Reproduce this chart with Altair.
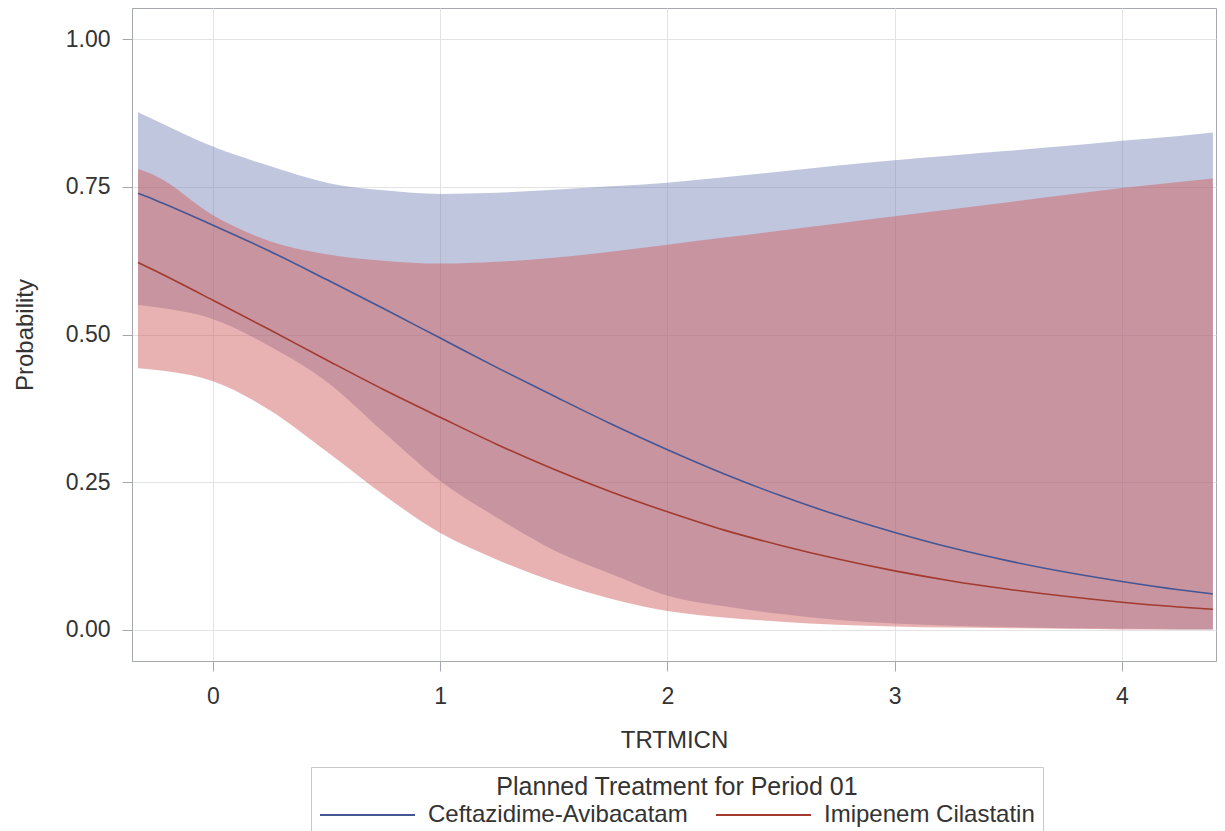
import altair as alt
import pandas as pd

# TRTMICN grid
x_vals = [-0.33, -0.25, 0.0, 0.25, 0.5, 0.75, 1.0, 1.25, 1.5, 1.75, 2.0,
          2.25, 2.5, 2.75, 3.0, 3.25, 3.5, 3.75, 4.0, 4.25, 4.4]

groups = ["Ceftazidime-Avibacatam", "Imipenem Cilastatin"]
line_colors = ["#445694", "#A23A2E"]
band_colors = ["#6F7EB3", "#D05B5B"]
band_opacity = [0.44, 0.47]

cef_est = [0.739, 0.727, 0.685, 0.641, 0.593, 0.544, 0.494, 0.444, 0.396, 0.349, 0.305,
           0.264, 0.227, 0.194, 0.165, 0.139, 0.117, 0.098, 0.082, 0.068, 0.061]
cef_lo = [0.550, 0.546, 0.526, 0.480, 0.420, 0.335, 0.252, 0.190, 0.135, 0.095, 0.058,
          0.040, 0.027, 0.017, 0.011, 0.007, 0.005, 0.003, 0.002, 0.001, 0.001]
cef_hi = [0.876, 0.862, 0.818, 0.785, 0.757, 0.744, 0.738, 0.740, 0.745, 0.751, 0.757,
          0.766, 0.776, 0.786, 0.795, 0.803, 0.811, 0.819, 0.828, 0.836, 0.842]

imi_est = [0.622, 0.607, 0.558, 0.508, 0.457, 0.407, 0.360, 0.314, 0.272, 0.234, 0.200,
           0.169, 0.143, 0.120, 0.100, 0.083, 0.069, 0.057, 0.047, 0.039, 0.035]
imi_lo = [0.443, 0.440, 0.421, 0.372, 0.302, 0.229, 0.164, 0.119, 0.082, 0.053, 0.032,
          0.021, 0.014, 0.009, 0.006, 0.004, 0.003, 0.002, 0.001, 0.001, 0.001]
imi_hi = [0.780, 0.768, 0.702, 0.658, 0.636, 0.625, 0.620, 0.623, 0.630, 0.640, 0.652,
          0.664, 0.676, 0.688, 0.700, 0.712, 0.724, 0.736, 0.748, 0.758, 0.764]

rows = []
for g, est, lo, hi in [(groups[0], cef_est, cef_lo, cef_hi), (groups[1], imi_est, imi_lo, imi_hi)]:
    for xv, e, l, h in zip(x_vals, est, lo, hi):
        rows.append({"TRTMICN": xv, "grp": g, "est": e, "lo": l, "hi": h})
df = pd.DataFrame(rows)

FONT = "Liberation Sans"
TXT = "#333333"

xscale = alt.Scale(domain=[-0.3564, 4.4137], nice=False, zero=False)
yscale = alt.Scale(domain=[-0.0525, 1.0526], nice=False, zero=False)

xaxis = alt.Axis(values=[0, 1, 2, 3, 4], format="d", title="TRTMICN")
yaxis = alt.Axis(values=[0, 0.25, 0.5, 0.75, 1.0], format=".2f", title="Probability")

base = alt.Chart(df)


def band(i):
    return base.transform_filter(alt.datum.grp == groups[i]).mark_area(
        color=band_colors[i], fillOpacity=band_opacity[i], interpolate="monotone"
    ).encode(
        x=alt.X("TRTMICN:Q", scale=xscale, axis=xaxis),
        y=alt.Y("lo:Q", scale=yscale, axis=yaxis),
        y2="hi:Q",
    )


lines = base.mark_line(strokeWidth=1.6, interpolate="monotone").encode(
    x=alt.X("TRTMICN:Q", scale=xscale),
    y=alt.Y("est:Q", scale=yscale),
    color=alt.Color(
        "grp:N",
        scale=alt.Scale(domain=groups, range=line_colors),
        legend=alt.Legend(
            orient="none", legendX=179, legendY=759, direction="horizontal",
            title="Planned Treatment for Period 01", titleAnchor="middle",
            titleFontSize=25, titleFont=FONT, titleFontWeight="normal", titleColor=TXT,
            titleLimit=800, titlePadding=2,
            labelFontSize=24, labelFont=FONT, labelColor=TXT, labelLimit=500, labelOffset=12,
            symbolType="stroke", symbolSize=9025, symbolStrokeWidth=2, clipHeight=26,
            columnPadding=27, strokeColor="#C8C8C8", padding=8,
        ),
    ),
)

chart = alt.layer(band(0), band(1), lines).properties(
    width=1084, height=653,
    autosize=alt.AutoSizeParams(type="none"),
    padding={"left": 124, "top": 0, "right": 1, "bottom": 172},
).configure_view(
    stroke="#A5A9AE", strokeWidth=1
).configure_axis(
    labelFont=FONT, titleFont=FONT, labelFontSize=23, titleFontSize=24,
    labelColor=TXT, titleColor=TXT, titleFontWeight="normal",
    domainColor="#A5A9AE", tickColor="#A5A9AE", tickSize=10,
    gridColor="#E3E3E3", grid=True,
).configure_axisX(
    labelPadding=14, titlePadding=20,
).configure_axisY(
    labelPadding=12, titlePadding=28,
)

chart.save("out.html", embed_options={"renderer": "svg", "actions": False})
